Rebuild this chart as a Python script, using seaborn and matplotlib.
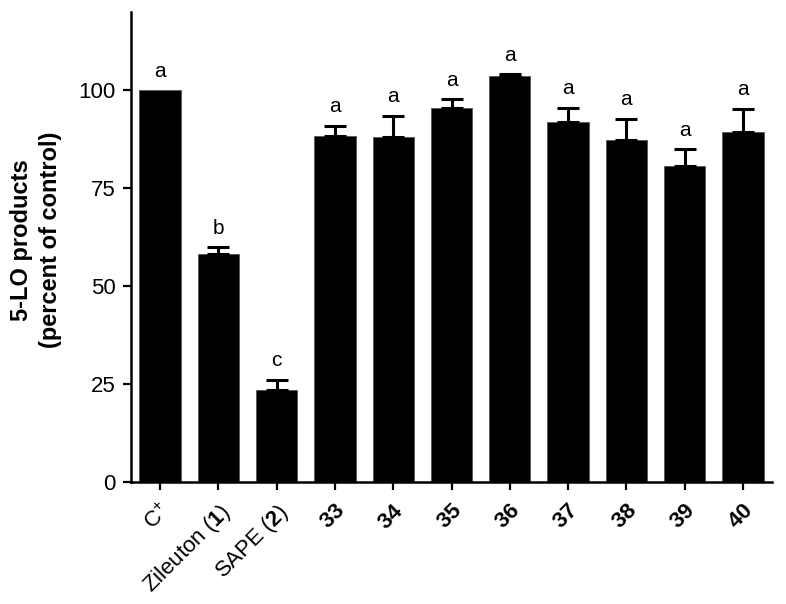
import matplotlib
matplotlib.use("Agg")
import matplotlib.pyplot as plt
import seaborn as sns
import pandas as pd
import numpy as np

categories = ["C+", "Zileuton (1)", "SAPE (2)", "33", "34", "35", "36", "37", "38", "39", "40"]
tick_labels = [r"C$^{+}$", r"Zileuton ($\mathbf{1}$)", r"SAPE ($\mathbf{2}$)",
               r"$\mathbf{33}$", r"$\mathbf{34}$", r"$\mathbf{35}$", r"$\mathbf{36}$",
               r"$\mathbf{37}$", r"$\mathbf{38}$", r"$\mathbf{39}$", r"$\mathbf{40}$"]
values = [100.0, 58.1, 23.6, 88.3, 88.0, 95.4, 103.6, 92.0, 87.2, 80.8, 89.4]
errors = [0.0, 1.8, 2.5, 2.6, 5.4, 2.3, 0.5, 3.6, 5.6, 4.1, 5.8]
letters = ["a", "b", "c", "a", "a", "a", "a", "a", "a", "a", "a"]

sns.set_theme(style="ticks")
plt.rcParams["font.family"] = ["Liberation Sans", "DejaVu Sans"]
plt.rcParams["mathtext.fontset"] = "custom"
plt.rcParams["mathtext.rm"] = "Liberation Sans"
plt.rcParams["mathtext.it"] = "Liberation Sans"
plt.rcParams["mathtext.bf"] = "Liberation Sans:bold"
for k in ["text.color", "axes.labelcolor", "xtick.color", "ytick.color", "axes.edgecolor"]:
    plt.rcParams[k] = "black"

df = pd.DataFrame({"cat": categories, "val": values})

fig = plt.figure(figsize=(7.86, 6.04), dpi=100)
ax = fig.add_axes([131/786, 1 - 482/604, (772-131)/786, (482-12)/604])

sns.barplot(data=df, x="cat", y="val", color="black", saturation=1, width=0.71,
            errorbar=None, ax=ax, edgecolor="#555555", linewidth=0.6)

x = np.arange(len(categories))
errs = np.array(errors)
mask = errs > 0
ax.errorbar(x[mask], np.array(values)[mask], yerr=[np.zeros(mask.sum()), errs[mask]],
            fmt="none", ecolor="black", elinewidth=2.2, capsize=8, capthick=2.2)

for xi, v, e, l in zip(x, values, errors, letters):
    ax.annotate(l, (xi, v + e), xytext=(0, 7), textcoords="offset points",
                ha="center", va="bottom", fontsize=15, color="black")

ax.set_xlim(-0.5, len(categories) - 0.5)
ax.set_ylim(0, 120)
ax.set_yticks([0, 25, 50, 75, 100])
ax.set_xticks(x)
ax.set_xticklabels(tick_labels, rotation=45, ha="right", rotation_mode="anchor", fontsize=16)
ax.tick_params(axis="y", labelsize=16, length=6, width=1.6, pad=5)
ax.tick_params(axis="x", length=6, width=1.6, pad=7)
ax.set_xlabel("")
ax.set_ylabel("5-LO products\n(percent of control)", fontsize=17, fontweight="bold",
              linespacing=1.35)
ax.yaxis.set_label_coords(-0.107, 0.515)
sns.despine(ax=ax)
for s in ["left", "bottom"]:
    ax.spines[s].set_linewidth(1.8)
    ax.spines[s].set_color("black")

fig.savefig("out.png", dpi=100)
